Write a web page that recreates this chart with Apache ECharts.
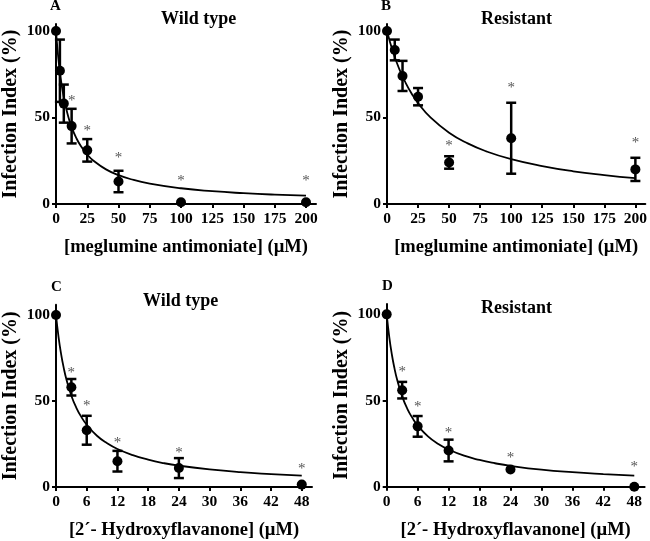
<!DOCTYPE html>
<html lang="en">
<head>
    <meta charset="UTF-8">
    <title>Infection Index</title>
    <script src="https://cdn.jsdelivr.net/npm/echarts@6/dist/echarts.min.js"></script>
</head>
<body style="margin:0">
<div id="main" style="width: 650px; height: 541px"></div>
<script type="text/javascript">
    // panel A - meglumine antimoniate, wild type
    var doseA = [0, 3.125, 6.25, 12.5, 25, 50, 100, 200];
    var meanA = [100, 77, 58, 45, 31, 13, 1, 1];
    var semA = [0, 18, 11, 10, 6.5, 6.2, 0, 0];
    var starXA = [12.5, 25, 50, 100, 200];
    var starYA = [61, 44, 28, 15, 15];
    var fitXA = [0, 1, 2, 3, 4, 6, 8, 10, 12.5, 16, 20, 25, 30, 40, 50, 60, 75, 100, 125, 150, 175, 200];
    var fitYA = [100, 90.9, 83.3, 76.9, 71.4, 62.5, 55.6, 50, 44.4, 38.5, 33.3, 28.6, 25, 20, 16.7, 14.3, 11.8, 9.1, 7.4, 6.25, 5.4, 4.8];

    // panel B - meglumine antimoniate, resistant
    var doseB = [0, 6.25, 12.5, 25, 50, 100, 200];
    var meanB = [100, 89, 74, 62, 24, 38, 20];
    var semB = [0, 6, 8.7, 5, 3.6, 20.5, 6.7];
    var starXB = [50, 100, 200];
    var starYB = [35, 69, 37];
    var fitXB = [0, 5, 10, 15, 20, 25, 35, 50, 65, 80, 100, 125, 150, 175, 200];
    var fitYB = [100, 87.5, 77.8, 70, 63.6, 58.3, 50, 41.2, 35, 30.4, 25.9, 21.9, 18.9, 16.7, 14.9];

    // panel C - 2'-hydroxyflavanone, wild type
    var doseC = [0, 3, 6, 12, 24, 48];
    var meanC = [100, 58, 33, 15, 11, 1.4];
    var semC = [0, 4.8, 8.4, 6, 5.8, 0];
    var starXC = [3, 6, 12, 24, 48];
    var starYC = [68, 49, 27.5, 21.7, 12];
    var fitXC = [0, 0.5, 1, 1.5, 2, 3, 4, 5, 6, 8, 10, 12, 15, 18, 21, 24, 30, 36, 42, 48];
    var fitYC = [100, 87.2, 77.3, 69.4, 63, 53.1, 45.9, 40.5, 36.2, 29.8, 25.4, 22.1, 18.5, 15.9, 13.9, 12.4, 10.2, 8.6, 7.5, 6.6];

    // panel D - 2'-hydroxyflavanone, resistant
    var doseD = [0, 3, 6, 12, 24, 48];
    var meanD = [100, 56, 35, 21, 10, 0];
    var semD = [0, 4.8, 6, 6.3, 0, 0];
    var starXD = [3, 6, 12, 24, 48];
    var starYD = [68, 48, 33, 18.4, 13.2];
    var fitXD = [0, 0.5, 1, 1.5, 2, 3, 4, 5, 6, 8, 10, 12, 15, 18, 21, 24, 30, 36, 42, 48];
    var fitYD = [100, 86.8, 76.7, 68.8, 62.3, 52.4, 45.2, 39.8, 35.5, 29.2, 24.8, 21.6, 18, 15.5, 13.6, 12.1, 9.9, 8.4, 7.3, 6.4];

    var ticksMeg = [0, 25, 50, 75, 100, 125, 150, 175, 200];
    var ticksHyd = [0, 6, 12, 18, 24, 30, 36, 42, 48];
    var ticksY = [0, 50, 100];

    var FONT = 'Liberation Serif';

    var panels = [
        {dose: doseA, mean: meanA, sem: semA, sx: starXA, sy: starYA, fx: fitXA, fy: fitYA,
         grid: {left: 55, top: 24, width: 261, height: 180}, xmax: 208, ymax: 104, ticks: ticksMeg,
         xname: '[meglumine antimoniate] (\u00b5M)'},
        {dose: doseB, mean: meanB, sem: semB, sx: starXB, sy: starYB, fx: fitXB, fy: fitYB,
         grid: {left: 387, top: 24, width: 261, height: 180}, xmax: 208, ymax: 104, ticks: ticksMeg,
         xname: '[meglumine antimoniate] (\u00b5M)'},
        {dose: doseC, mean: meanC, sem: semC, sx: starXC, sy: starYC, fx: fitXC, fy: fitYC,
         grid: {left: 55, top: 304.7, width: 257, height: 182.6}, xmax: 50, ymax: 106, ticks: ticksHyd,
         xname: '[2\u00b4- Hydroxyflavanone] (\u00b5M)'},
        {dose: doseD, mean: meanD, sem: semD, sx: starXD, sy: starYD, fx: fitXD, fy: fitYD,
         grid: {left: 386.7, top: 304, width: 257.9, height: 182.7}, xmax: 50, ymax: 106, ticks: ticksHyd,
         xname: '[2\u00b4- Hydroxyflavanone] (\u00b5M)'}
    ];

    var grids = [], xAxes = [], yAxes = [], series = [];
    panels.forEach(function (p, i) {
        grids.push(p.grid);
        xAxes.push({
            type: 'value', gridIndex: i, min: 0, max: p.xmax,
            name: p.xname, nameLocation: 'middle', nameGap: 34,
            nameTextStyle: {fontFamily: FONT, fontWeight: 'bold', fontSize: 18.5, color: '#000'},
            axisLine: {onZero: false, lineStyle: {color: '#000', width: 2}},
            axisTick: {length: 4, lineStyle: {color: '#000', width: 2}, customValues: p.ticks},
            axisLabel: {customValues: p.ticks, margin: 7, fontFamily: FONT, fontWeight: 'bold', fontSize: 15.5, color: '#000'},
            splitLine: {show: false}
        });
        yAxes.push({
            type: 'value', gridIndex: i, min: 0, max: p.ymax,
            name: 'Infection Index (%)', nameLocation: 'middle', nameGap: 35,
            nameTextStyle: {fontFamily: FONT, fontWeight: 'bold', fontSize: 20, color: '#000'},
            axisLine: {onZero: false, lineStyle: {color: '#000', width: 2}},
            axisTick: {length: 4, lineStyle: {color: '#000', width: 2}, customValues: ticksY},
            axisLabel: {customValues: ticksY, margin: 6, fontFamily: FONT, fontWeight: 'bold', fontSize: 15.5, color: '#000'},
            splitLine: {show: false}
        });

        series.push({
            type: 'line', xAxisIndex: i, yAxisIndex: i, smooth: true,
            showSymbol: false, silent: true,
            lineStyle: {color: '#000', width: 1.8},
            data: p.fx.map(function (x, k) { return [x, p.fy[k]]; })
        });
        series.push({
            type: 'custom', xAxisIndex: i, yAxisIndex: i, silent: true,
            data: p.dose.map(function (x, k) { return [x, p.mean[k] - p.sem[k], p.mean[k] + p.sem[k]]; }),
            renderItem: function (params, api) {
                if (api.value(2) - api.value(1) <= 0) return null;
                var lo = api.coord([api.value(0), api.value(1)]);
                var hi = api.coord([api.value(0), api.value(2)]);
                var w = 5;
                var st = {stroke: '#000', lineWidth: 2.5};
                return {
                    type: 'group',
                    children: [
                        {type: 'line', shape: {x1: lo[0], y1: lo[1], x2: hi[0], y2: hi[1]}, style: st},
                        {type: 'line', shape: {x1: lo[0] - w, y1: lo[1], x2: lo[0] + w, y2: lo[1]}, style: st},
                        {type: 'line', shape: {x1: hi[0] - w, y1: hi[1], x2: hi[0] + w, y2: hi[1]}, style: st}
                    ]
                };
            }
        });
        series.push({
            type: 'scatter', xAxisIndex: i, yAxisIndex: i, symbolSize: 10, silent: true,
            itemStyle: {color: '#000', opacity: 1},
            data: p.dose.map(function (x, k) { return [x, p.mean[k]]; })
        });
        series.push({
            type: 'custom', xAxisIndex: i, yAxisIndex: i, silent: true,
            data: p.sx.map(function (x, k) { return [x, p.sy[k]]; }),
            renderItem: function (params, api) {
                var c = api.coord([api.value(0), api.value(1)]);
                return {
                    type: 'text',
                    style: {text: '*', x: c[0], y: c[1] + 3, align: 'center', verticalAlign: 'middle',
                        fontFamily: FONT, fontSize: 15, fill: '#555'}
                };
            }
        });
    });

    function label(text, x, y, size) {
        return {type: 'text', left: x, top: y,
            style: {text: text, fontFamily: FONT, fontWeight: 'bold', fontSize: size, fill: '#000'}};
    }

    var myChart = echarts.init(document.getElementById('main'));
    myChart.setOption({
        animation: false,
        backgroundColor: '#fff',
        grid: grids,
        xAxis: xAxes,
        yAxis: yAxes,
        series: series,
        graphic: [
            label('A', 50, -1, 15),
            label('B', 381, -1, 15),
            label('C', 51, 280, 15),
            label('D', 382, 279, 15),
            label('Wild type', 161, 10, 18),
            label('Resistant', 481, 10, 18),
            label('Wild type', 143, 292, 18),
            label('Resistant', 481, 299, 18)
        ]
    });
</script>
</body>
</html>
